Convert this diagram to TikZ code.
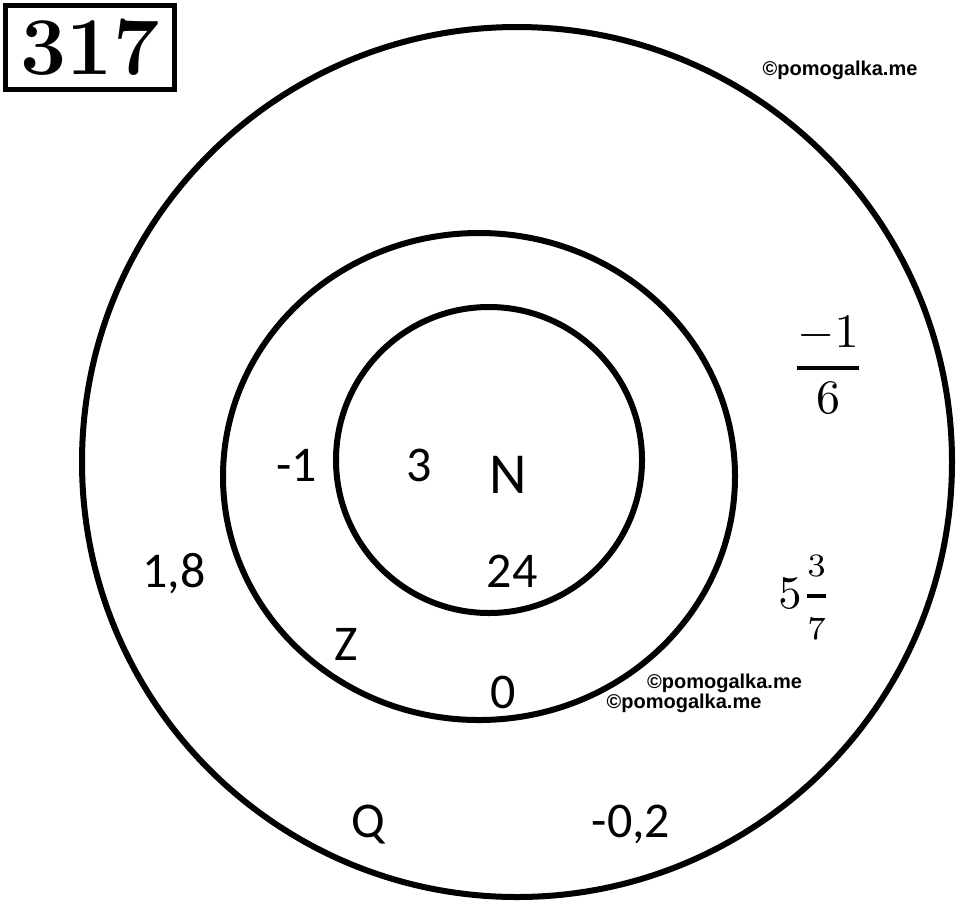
\documentclass[tikz,border=0pt]{standalone}
\usepackage{amsmath}
\usepackage{fontspec}
\newfontfamily\labelfont{Carlito}
\newfontfamily\markfont{Liberation Sans}
\tikzstyle{every node} = [
		inner sep = 0pt,
	]
\tikzstyle{ring} = [
		line width = 6pt,
		draw = black
	]
\tikzstyle{member} = [
		font = \labelfont\fontsize{50}{50}\selectfont,
		anchor = base
	]
\tikzstyle{setname} = [
		font = \labelfont\fontsize{58}{58}\selectfont,
		anchor = base
	]
\tikzstyle{watermark} = [
		font = \markfont\bfseries\fontsize{20}{20}\selectfont
	]
\tikzstyle{numberbox} = [
		rectangle,
		draw = black,
		line width = 5pt,
		minimum width = 169pt,
		minimum height = 83.5pt,
		font = \bfseries\fontsize{82}{82}\selectfont
	]

\begin{document}
\begin{tikzpicture}[x=1pt, y=-1pt]
	\useasboundingbox (0,0) rectangle (960,903);

		%------------------------------Rings------------------------------
		\draw [ring] (517,462) circle [radius=435];
		\draw [ring] (479,476.5) ellipse [x radius=256, y radius=243.5];
		\draw [ring] (489,460) circle [radius=153];

		%------------------------------Labels------------------------------
		\node [numberbox] (task) at (90,47.25) {317};

		\node [setname] (setN) at (508.5,493) {N};
		\node [member] (three) at (419.5,481) {3};
		\node [member] (twentyfour) at (512,587) {24};

		\node [member] (setZ) at (346,660) {Z};
		\node [member] (minusone) at (297,481) {-1};
		\node [member] (zero) at (503.5,708) {0};

		\node [member] (setQ) at (368.5,837) {Q};
		\node [member] (onepteight) at (174,587) {1,8};
		\node [member] (minuspttwo) at (631,837) {-0,2};
		\node [scale=4.8] (sixth) at (828,365) {$\genfrac{}{}{0.9pt}{0}{-1}{6}$};
		\node [scale=4.66, anchor=base] (mixed) at (805,608) {$5\genfrac{}{}{0.8pt}{0}{\scriptstyle 3}{\scriptstyle 7}$};

		%------------------------------Marks------------------------------
		\node [watermark] (markA) at (840,70.5) {©pomogalka.me};
		\node [watermark] (markB) at (724.5,683) {©pomogalka.me};
		\node [watermark] (markC) at (684,703) {©pomogalka.me};

	\end{tikzpicture}
\end{document}
